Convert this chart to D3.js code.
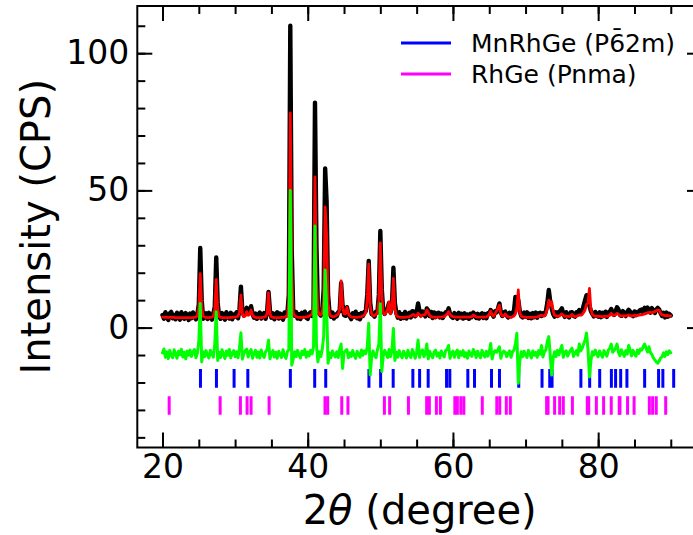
<!DOCTYPE html>
<html>
<head>
<meta charset="utf-8">
<script src="https://cdn.jsdelivr.net/npm/d3@7"></script>
<style>
  html, body { margin: 0; padding: 0; background: #ffffff; }
  svg { display: block; font-family: "DejaVu Sans", sans-serif; }
</style>
</head>
<body>
<svg id="chart" width="693" height="535"></svg>
<script>
// 2θ scan grid: 20° to 90° in 0.2° steps (351 points)
const angleStart = 20;
const angleStep = 0.2;

// Observed intensity (CPS)
const observed = [
  4.6, 3.2, 5.6, 4.1, 2.8, 5.2, 5.7, 3.4, 4.6, 3.0,
  5.4, 4.2, 2.9, 5.6, 4.0, 3.2, 5.3, 4.3, 2.8, 5.1,
  3.4, 5.5, 4.1, 3.0, 4.8, 8.5, 29.0, 10.0, 3.2, 4.6,
  5.2, 3.1, 5.4, 4.0, 2.9, 5.1, 7.5, 25.6, 9.0, 4.1,
  3.2, 5.3, 4.2, 2.9, 5.6, 4.3, 3.3, 5.4, 3.0, 4.8,
  4.0, 5.6, 3.4, 6.5, 14.9, 6.0, 4.4, 5.2, 7.2, 5.2,
  5.6, 7.8, 5.0, 3.6, 5.1, 3.2, 4.7, 5.5, 3.3, 4.5,
  5.3, 3.2, 5.5, 13.0, 6.2, 3.6, 5.2, 3.0, 4.8, 5.6,
  3.3, 5.1, 4.1, 2.9, 5.5, 4.2, 5.3, 12.0, 110.0, 28.0,
  6.5, 4.3, 5.7, 3.3, 4.9, 3.1, 5.4, 4.1, 5.8, 3.6,
  3.2, 5.1, 5.6, 4.2, 6.0, 82.0, 30.0, 7.0, 5.0, 4.4,
  6.0, 14.0, 58.0, 46.0, 12.0, 5.5, 4.0, 5.5, 3.3, 4.8,
  4.1, 5.6, 6.0, 16.2, 8.0, 4.6, 4.3, 7.4, 5.0, 4.0,
  3.1, 5.2, 4.0, 5.8, 3.4, 4.9, 3.0, 5.3, 4.2, 5.7,
  6.0, 12.0, 24.3, 9.0, 5.0, 4.6, 4.0, 5.8, 5.5, 12.0,
  35.2, 14.0, 6.0, 5.0, 6.5, 7.0, 9.0, 5.5, 8.0, 21.8,
  9.0, 5.4, 3.6, 5.6, 3.2, 4.9, 3.5, 5.7, 3.3, 4.8,
  5.4, 3.7, 6.0, 5.8, 4.1, 5.6, 8.8, 6.0, 4.4, 5.9,
  5.0, 4.1, 7.0, 6.2, 4.2, 5.7, 3.5, 5.5, 3.8, 5.2,
  5.4, 3.7, 5.1, 3.5, 4.8, 5.6, 5.5, 7.0, 5.0, 4.0,
  3.5, 5.3, 4.2, 3.2, 5.4, 3.7, 5.0, 3.3, 5.2, 3.6,
  4.8, 3.2, 5.0, 3.8, 5.5, 4.8, 3.5, 5.0, 3.3, 4.7,
  5.2, 3.5, 4.9, 3.4, 5.2, 5.0, 6.4, 5.0, 4.0, 6.0,
  5.5, 7.0, 8.8, 5.5, 4.2, 5.5, 5.8, 4.4, 3.7, 5.4,
  4.1, 5.5, 6.0, 11.2, 9.5, 10.0, 6.0, 4.2, 3.7, 5.5,
  4.0, 5.6, 3.5, 5.0, 3.4, 5.3, 3.8, 5.5, 3.6, 5.2,
  5.4, 4.2, 5.2, 4.6, 6.0, 9.0, 13.7, 9.5, 7.0, 5.0,
  4.0, 5.6, 4.2, 5.7, 6.2, 7.0, 5.0, 3.9, 5.6, 4.2,
  3.7, 5.5, 5.6, 4.3, 4.0, 5.6, 5.5, 6.4, 5.6, 6.0,
  8.0, 10.0, 11.8, 9.0, 8.0, 6.0, 5.0, 4.1, 5.7, 4.4,
  4.0, 5.6, 3.8, 5.4, 4.2, 5.8, 3.9, 5.5, 5.8, 6.8,
  5.4, 4.6, 6.0, 7.4, 6.6, 4.6, 4.3, 6.0, 5.0, 4.2,
  5.7, 6.5, 5.8, 4.6, 4.2, 5.9, 4.5, 5.7, 5.8, 6.4,
  6.6, 5.4, 7.2, 5.6, 7.3, 5.9, 5.4, 7.1, 6.0, 5.3,
  6.6, 7.2, 6.6, 5.2, 4.2, 5.4, 3.7, 5.5, 4.0, 5.0,
  4.4
];

// Calculated (refined) intensity (CPS)
const calculated = [
  3.8, 3.8, 3.7, 3.7, 3.7, 3.7, 3.8, 3.7, 3.7, 3.6,
  3.6, 3.6, 3.6, 3.6, 3.6, 3.6, 3.6, 3.6, 3.6, 3.6,
  3.6, 3.6, 3.7, 3.8, 4.2, 7.0, 19.7, 7.5, 4.2, 3.8,
  3.7, 3.6, 3.6, 3.7, 3.8, 4.2, 6.5, 17.6, 6.5, 4.0,
  3.7, 3.6, 3.6, 3.6, 3.6, 3.6, 3.6, 3.7, 3.7, 3.8,
  3.8, 3.9, 4.2, 5.5, 11.8, 5.0, 4.0, 4.2, 5.8, 4.5,
  4.8, 6.4, 4.6, 3.9, 3.7, 3.6, 3.6, 3.6, 3.6, 3.7,
  3.8, 4.0, 5.0, 12.7, 5.0, 3.9, 3.7, 3.6, 3.6, 3.6,
  3.6, 3.6, 3.7, 3.7, 3.8, 4.0, 4.4, 10.0, 78.2, 20.0,
  5.5, 4.3, 4.0, 3.8, 3.7, 3.7, 3.7, 3.8, 3.8, 3.9,
  4.0, 4.2, 4.5, 5.0, 8.0, 54.9, 18.0, 6.0, 4.8, 4.6,
  5.5, 10.0, 44.0, 34.0, 9.0, 5.0, 4.3, 4.0, 4.0, 4.2,
  4.5, 5.0, 6.5, 17.0, 8.0, 5.0, 5.0, 7.4, 5.0, 4.2,
  3.9, 3.8, 3.7, 3.7, 3.7, 3.8, 3.9, 4.0, 4.2, 4.6,
  5.5, 10.0, 23.1, 8.0, 5.0, 4.4, 4.4, 4.8, 5.5, 10.0,
  30.9, 12.0, 5.5, 4.8, 5.5, 6.5, 9.4, 5.0, 7.0, 17.9,
  7.0, 4.5, 4.0, 3.8, 3.7, 3.7, 3.7, 3.7, 3.8, 3.9,
  4.0, 4.2, 4.6, 4.8, 4.3, 4.2, 5.2, 4.6, 4.2, 4.5,
  4.6, 4.8, 6.4, 5.5, 4.4, 4.0, 3.8, 3.8, 3.7, 3.8,
  3.8, 3.8, 3.8, 3.9, 4.0, 4.5, 5.0, 5.8, 4.8, 4.2,
  4.0, 3.9, 3.8, 3.8, 3.8, 3.8, 3.8, 3.8, 3.8, 3.8,
  3.8, 3.8, 3.9, 4.0, 4.6, 4.2, 3.9, 3.8, 3.8, 3.8,
  3.8, 3.8, 3.8, 3.9, 4.2, 4.8, 6.0, 4.6, 4.2, 5.0,
  6.0, 7.0, 8.2, 5.0, 4.2, 4.3, 5.0, 4.3, 3.9, 3.8,
  3.8, 3.9, 4.2, 5.0, 7.0, 13.7, 5.5, 4.2, 3.9, 3.8,
  3.7, 3.7, 3.7, 3.7, 3.7, 3.7, 3.7, 3.8, 3.9, 4.1,
  4.4, 4.5, 4.2, 4.3, 5.0, 7.0, 10.0, 8.0, 9.4, 6.0,
  4.5, 4.3, 4.1, 4.2, 4.5, 5.0, 4.4, 4.1, 4.2, 4.1,
  4.0, 4.2, 4.8, 4.2, 4.0, 4.1, 4.3, 4.6, 4.5, 4.8,
  5.5, 6.5, 8.5, 9.0, 14.3, 6.5, 4.8, 4.3, 4.2, 4.2,
  4.1, 4.1, 4.0, 4.0, 4.1, 4.1, 4.1, 4.2, 4.5, 5.2,
  4.5, 4.5, 4.7, 5.2, 4.9, 4.4, 4.3, 4.3, 4.3, 4.3,
  4.4, 4.6, 4.3, 4.3, 4.3, 4.5, 4.4, 4.4, 4.5, 4.7,
  4.6, 4.8, 5.0, 5.2, 5.4, 5.4, 5.6, 5.4, 5.6, 5.8,
  6.2, 6.4, 6.4, 5.2, 4.6, 4.5, 4.4, 4.4, 4.4, 4.3,
  4.3
];

// Difference curve (observed - calculated), shown shifted below zero
const difference = [
  -9.2, -7.8, -10.8, -8.8, -11.3, -8.3, -10.0, -11.0, -8.1, -9.5,
  -11.2, -8.6, -9.9, -7.9, -10.7, -9.0, -11.4, -8.5, -10.1, -8.2,
  -10.5, -8.8, -8.0, -11.0, -9.4, -5.0, 8.8, -12.5, -8.8, -10.6,
  -8.4, -10.1, -11.1, -8.3, -9.7, -10.8, -6.0, 5.8, -12.0, -9.0,
  -10.9, -8.1, -9.8, -11.3, -8.5, -10.1, -8.0, -11.0, -9.3, -8.4,
  -10.6, -8.8, -11.0, -7.5, -1.9, -11.5, -9.6, -8.3, -7.8, -10.7,
  -8.8, -8.0, -11.2, -9.3, -8.3, -10.8, -8.9, -11.1, -8.2, -10.0,
  -10.9, -8.8, -8.0, -4.6, -11.4, -9.4, -8.4, -10.7, -9.0, -11.2,
  -8.6, -9.9, -10.9, -8.1, -10.1, -11.2, -8.8, -8.0, 50.0, -13.7,
  -11.5, -8.8, -10.6, -8.3, -10.0, -11.1, -8.6, -9.8, -8.0, -10.8,
  -8.9, -10.3, -8.3, -9.6, -7.0, 37.0, -6.0, -12.5, -8.8, -10.6,
  -8.0, -3.0, 21.0, 8.0, -13.0, -9.3, -11.0, -8.5, -9.9, -10.7,
  -8.8, -10.9, -7.9, -6.0, -14.9, -9.1, -8.4, -8.0, -11.0, -9.2,
  -10.5, -8.4, -10.0, -11.2, -8.6, -9.7, -10.8, -8.2, -10.1, -8.5,
  -9.5, -7.0, 1.6, -17.3, -10.9, -8.5, -10.1, -11.0, -8.1, -6.0,
  8.7, -16.0, -10.4, -8.3, -9.6, -10.9, -8.0, -10.6, -8.4, -0.3,
  -12.0, -9.0, -10.8, -8.4, -10.0, -11.0, -8.6, -9.7, -11.1, -8.3,
  -10.1, -10.9, -8.0, -9.2, -11.2, -9.0, -4.5, -10.9, -8.8, -8.1,
  -10.6, -9.4, -6.0, -11.4, -8.6, -10.0, -11.0, -8.9, -8.2, -10.4,
  -9.2, -11.1, -8.5, -9.9, -10.7, -8.3, -8.0, -6.5, -11.2, -9.3,
  -8.6, -10.8, -9.1, -8.2, -11.0, -8.8, -10.1, -8.4, -10.6, -9.2,
  -11.2, -8.5, -9.8, -10.5, -8.0, -9.0, -10.9, -8.6, -9.9, -11.0,
  -8.3, -9.7, -10.7, -8.6, -10.4, -9.0, -5.8, -11.4, -9.2, -8.4,
  -9.0, -8.0, -7.0, -11.2, -9.3, -8.6, -9.0, -10.6, -9.4, -8.5,
  -10.8, -8.9, -8.2, -6.0, -2.1, -20.3, -12.5, -8.8, -10.6, -8.6,
  -10.0, -10.9, -8.3, -9.6, -11.1, -8.5, -10.1, -9.0, -10.8, -8.4,
  -9.7, -6.5, -10.7, -8.8, -8.2, -5.0, -3.3, -10.0, -17.3, -11.0,
  -8.8, -10.6, -8.3, -9.9, -8.0, -6.5, -10.8, -9.0, -8.5, -10.4,
  -9.1, -8.3, -7.5, -10.5, -9.3, -8.4, -10.1, -6.0, -8.5, -7.5,
  -6.0, -4.5, -2.0, -8.0, -18.0, -12.0, -8.8, -10.0, -8.2, -9.6,
  -10.6, -8.5, -9.8, -10.8, -8.4, -9.5, -10.4, -8.2, -7.5, -6.0,
  -9.0, -8.3, -7.5, -6.0, -9.0, -10.2, -8.1, -9.4, -10.5, -8.4,
  -9.7, -6.5, -8.1, -10.3, -8.3, -9.5, -10.4, -8.2, -9.4, -7.8,
  -8.2, -7.0, -6.0, -7.5, -8.9, -7.0, -9.1, -9.8, -11.0, -11.8,
  -12.5, -13.0, -12.2, -11.0, -10.7, -9.2, -10.5, -8.8, -9.8, -8.5,
  -9.2
];

// Bragg reflection positions (2θ, degrees)
const mnRhGeReflections = [
  25.23, 27.43, 29.86, 31.75, 37.61, 40.96, 42.48, 48.43, 50.04, 51.77,
  54.48, 55.41, 56.59, 59.12, 59.57, 62.05, 62.97, 65.31, 66.41, 69.06,
  72.27, 73.33, 73.65, 77.62, 78.83, 80.21, 81.82, 82.4, 83.1, 83.96,
  86.4, 88.32, 88.91, 90.4
];
const rhGeReflections = [
  20.92, 27.94, 30.73, 31.65, 32.2, 34.68, 42.38, 42.75, 44.69, 45.54,
  50.56, 51.28, 53.87, 56.38, 56.75, 57.72, 58.27, 60.26, 60.61, 61.09,
  61.5, 64.04, 66.04, 66.45, 67.35, 67.9, 72.9, 73.1, 74.0, 74.7,
  75.2, 76.45, 78.5, 78.7, 79.75, 80.75, 81.8, 82.9, 83.0, 84.05,
  84.95, 87.05, 87.5, 88.0, 89.3
];
// Intensity level at which each phase's reflection row sits, and its half height
const mnRhGeRow = -18.5;
const rhGeRow = -28.4;
const reflectionHalfHeight = 3.4;

const xTickLabels = [20, 40, 60, 80];
const yTickLabels = [0, 50, 100];
const legendLabels = ["MnRhGe (P6\u03042m)", "RhGe (Pnma)"];

// ---------------------------------------------------------------------------
const svg = d3.select("#chart");
const frame = { left: 137.3, top: 6, right: 702, bottom: 447.5 };

const x = d3.scaleLinear().domain([16.53, 94.3]).range([frame.left, frame.right]);
const y = d3.scaleLinear().domain([-43.7, 117.2]).range([frame.bottom, frame.top]);

svg.append("defs").append("clipPath").attr("id", "plot-clip")
  .append("rect")
  .attr("x", frame.left).attr("y", frame.top)
  .attr("width", frame.right - frame.left).attr("height", frame.bottom - frame.top);

const plot = svg.append("g").attr("clip-path", "url(#plot-clip)");

// Reflection markers
function drawReflections(list, row, color) {
  plot.append("g").selectAll("line").data(list).join("line")
    .attr("x1", d => x(d)).attr("x2", d => x(d))
    .attr("y1", y(row + reflectionHalfHeight))
    .attr("y2", y(row - reflectionHalfHeight))
    .attr("stroke", color)
    .attr("stroke-width", 3);
}
drawReflections(mnRhGeReflections, mnRhGeRow, "#0000ff");
drawReflections(rhGeReflections, rhGeRow, "#ff00ff");

// Profiles
const angleAt = i => angleStart + i * angleStep;
const profile = d3.line().x((d, i) => x(angleAt(i))).y(d => y(d));

function drawProfile(values, color, width) {
  plot.append("path").datum(values)
    .attr("d", profile)
    .attr("fill", "none")
    .attr("stroke", color)
    .attr("stroke-width", width)
    .attr("stroke-linejoin", "round")
    .attr("stroke-linecap", "round");
}
drawProfile(observed, "#000000", 4.4);
drawProfile(calculated, "#ff0000", 2.8);
drawProfile(difference, "#00ff00", 3.0);

// Axes: inward ticks on all four sides
function styleAxis(g, fontSize) {
  g.select(".domain").remove();
  g.selectAll(".tick line").attr("stroke", "#000").attr("stroke-width", 2);
  g.selectAll(".tick text")
    .attr("fill", "#000")
    .attr("font-family", "DejaVu Sans")
    .attr("font-size", fontSize);
}

const minorX = d3.range(20, 91, 5);
const minorY = d3.range(-40, 111, 10);

// bottom
svg.append("g").attr("transform", `translate(0,${frame.bottom})`)
  .call(d3.axisBottom(x).tickValues(minorX).tickSizeInner(-8).tickSizeOuter(0).tickFormat(""))
  .call(g => styleAxis(g, 33));
svg.append("g").attr("transform", `translate(0,${frame.bottom})`)
  .call(d3.axisBottom(x).tickValues(xTickLabels).tickSizeInner(-15).tickSizeOuter(0)
    .tickPadding(7).tickFormat(d3.format("d")))
  .call(g => styleAxis(g, 33));
// top
svg.append("g").attr("transform", `translate(0,${frame.top})`)
  .call(d3.axisTop(x).tickValues(minorX).tickSizeInner(-8).tickSizeOuter(0).tickFormat(""))
  .call(g => styleAxis(g, 33));
svg.append("g").attr("transform", `translate(0,${frame.top})`)
  .call(d3.axisTop(x).tickValues(xTickLabels).tickSizeInner(-15).tickSizeOuter(0).tickFormat(""))
  .call(g => styleAxis(g, 33));
// left
svg.append("g").attr("transform", `translate(${frame.left},0)`)
  .call(d3.axisLeft(y).tickValues(minorY).tickSizeInner(-8).tickSizeOuter(0).tickFormat(""))
  .call(g => styleAxis(g, 33));
svg.append("g").attr("transform", `translate(${frame.left},0)`)
  .call(d3.axisLeft(y).tickValues(yTickLabels).tickSizeInner(-15).tickSizeOuter(0)
    .tickPadding(8).tickFormat(d3.format("d")))
  .call(g => styleAxis(g, 33));
// right
svg.append("g").attr("transform", `translate(${frame.right},0)`)
  .call(d3.axisRight(y).tickValues(minorY).tickSizeInner(-8).tickSizeOuter(0).tickFormat(""))
  .call(g => styleAxis(g, 33));
svg.append("g").attr("transform", `translate(${frame.right},0)`)
  .call(d3.axisRight(y).tickValues(yTickLabels).tickSizeInner(-15).tickSizeOuter(0).tickFormat(""))
  .call(g => styleAxis(g, 33));

// Frame
svg.append("rect")
  .attr("x", frame.left).attr("y", frame.top)
  .attr("width", frame.right - frame.left).attr("height", frame.bottom - frame.top)
  .attr("fill", "none").attr("stroke", "#000").attr("stroke-width", 2);

// Axis titles
svg.append("text")
  .attr("transform", `translate(50,${(frame.top + frame.bottom) / 2}) rotate(-90)`)
  .attr("text-anchor", "middle")
  .attr("font-size", 40)
  .attr("fill", "#000")
  .text("Intensity (CPS)");

const xTitle = svg.append("text")
  .attr("x", (frame.left + frame.right) / 2)
  .attr("y", 524)
  .attr("text-anchor", "middle")
  .attr("font-size", 40)
  .attr("fill", "#000");
xTitle.append("tspan").text("2");
xTitle.append("tspan").attr("font-style", "italic").text("\u03b8");
xTitle.append("tspan").text(" (degree)");

// Legend
const legendColors = ["#0000ff", "#ff00ff"];
const legendRows = [43, 74];
const legend = svg.append("g");
legendLabels.forEach((label, i) => {
  legend.append("line")
    .attr("x1", 401).attr("x2", 451)
    .attr("y1", legendRows[i]).attr("y2", legendRows[i])
    .attr("stroke", legendColors[i]).attr("stroke-width", 3);
  legend.append("text")
    .attr("x", 471).attr("y", legendRows[i] + 9)
    .attr("font-size", 25)
    .attr("fill", "#000")
    .text(label);
});
</script>
</body>
</html>
